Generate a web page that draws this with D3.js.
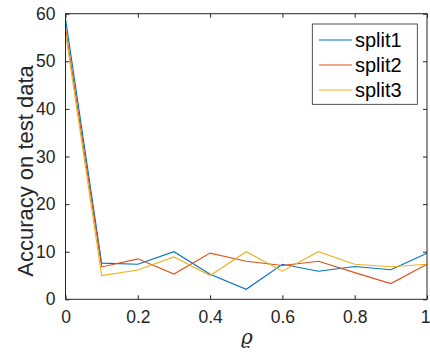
<!DOCTYPE html>
<html>
<head>
<meta charset="utf-8">
<script src="https://cdn.jsdelivr.net/npm/d3@7"></script>
<style>
  body { margin: 0; background: #fff; }
  svg { display: block; font-family: "Liberation Sans", Arial, sans-serif; }
</style>
</head>
<body>
<svg id="chart" width="430" height="354"></svg>
<script>
const rho = [0, 0.1, 0.2, 0.3, 0.4, 0.5, 0.6, 0.7, 0.8, 0.9, 1];
const split1 = [59, 7.6, 7.35, 10.0, 5.25, 2.1, 7.35, 5.9, 6.9, 6.2, 9.7];
const split2 = [57, 6.8, 8.5, 5.3, 9.7, 8.0, 7.1, 8.0, 5.6, 3.3, 7.35];
const split3 = [56, 5.0, 6.15, 8.9, 5.0, 10.0, 5.9, 10.0, 7.35, 6.85, 7.35];
const seriesNames = ["split1", "split2", "split3"];
const colors = ["#0072BD", "#D95319", "#EDB120"];
const xTicks = [0, 0.2, 0.4, 0.6, 0.8, 1];
const yTicks = [0, 10, 20, 30, 40, 50, 60];

const axisColor = "#262626";
const plotL = 65.5, plotR = 427, plotT = 13.7, plotB = 299.3;

const svg = d3.select("#chart");
const x = d3.scaleLinear().domain([0, 1]).range([plotL, plotR]);
const y = d3.scaleLinear().domain([0, 60]).range([plotB, plotT]);

const tickLen = 4;
const fmt = d => d === 0 ? "0" : d === 1 ? "1" : d3.format(".1f")(d);

// bottom axis (inner ticks) + top mirror
svg.append("g")
    .attr("transform", `translate(0,${plotB})`)
    .call(d3.axisBottom(x).tickValues(xTicks).tickSizeInner(-tickLen).tickSizeOuter(0).tickPadding(11).tickFormat(fmt))
    .call(g => g.select(".domain").remove())
    .call(g => g.selectAll("line").attr("stroke", axisColor))
    .call(g => g.selectAll("text").attr("fill", axisColor).attr("font-size", 17.5).attr("font-family", null))
    .call(g => g.selectAll("text").filter(d => d === 1).attr("dx", -2));
svg.append("g")
    .attr("transform", `translate(0,${plotT})`)
    .call(d3.axisTop(x).tickValues(xTicks).tickSizeInner(-tickLen).tickSizeOuter(0).tickFormat(""))
    .call(g => g.select(".domain").remove())
    .call(g => g.selectAll("line").attr("stroke", axisColor));

svg.append("g")
    .attr("transform", `translate(${plotL},0)`)
    .call(d3.axisLeft(y).tickValues(yTicks).tickSizeInner(-tickLen).tickSizeOuter(0).tickPadding(10))
    .call(g => g.select(".domain").remove())
    .call(g => g.selectAll("line").attr("stroke", axisColor))
    .call(g => g.selectAll("text").attr("fill", axisColor).attr("font-size", 17.5).attr("font-family", null));
svg.append("g")
    .attr("transform", `translate(${plotR},0)`)
    .call(d3.axisRight(y).tickValues(yTicks).tickSizeInner(-tickLen).tickSizeOuter(0).tickFormat(""))
    .call(g => g.select(".domain").remove())
    .call(g => g.selectAll("line").attr("stroke", axisColor));

// lines
const line = d3.line().x((d, i) => x(rho[i])).y(d => y(d));
[split1, split2, split3].forEach((s, k) => {
  svg.append("path")
      .datum(s)
      .attr("fill", "none")
      .attr("stroke", colors[k])
      .attr("stroke-width", 1.1)
      .attr("d", line);
});

// box outline
svg.append("rect")
    .attr("x", plotL).attr("y", plotT)
    .attr("width", plotR - plotL).attr("height", plotB - plotT)
    .attr("fill", "none").attr("stroke", axisColor).attr("stroke-width", 1);

// labels
svg.append("text")
    .attr("x", 247).attr("y", 344)
    .attr("text-anchor", "middle")
    .attr("font-size", 20).attr("font-style", "italic")
    .attr("font-family", "'DejaVu Serif', serif")
    .attr("fill", axisColor)
    .text("ϱ");

svg.append("text")
    .attr("transform", "translate(33,171) rotate(-90)")
    .attr("text-anchor", "middle")
    .attr("font-size", 22)
    .attr("fill", axisColor)
    .text("Accuracy on test data");

// legend
const lg = svg.append("g");
lg.append("rect")
    .attr("x", 312.3).attr("y", 24)
    .attr("width", 105).attr("height", 80.3)
    .attr("fill", "#fff").attr("stroke", axisColor).attr("stroke-width", 0.8);
seriesNames.forEach((name, k) => {
  const ly = 40 + k * 25;
  lg.append("line")
      .attr("x1", 319).attr("x2", 352)
      .attr("y1", ly).attr("y2", ly)
      .attr("stroke", colors[k]).attr("stroke-width", 1.1);
  lg.append("text")
      .attr("x", 355).attr("y", ly)
      .attr("dy", "0.35em")
      .attr("font-size", 20)
      .attr("fill", "#000")
      .text(name);
});
</script>
</body>
</html>
